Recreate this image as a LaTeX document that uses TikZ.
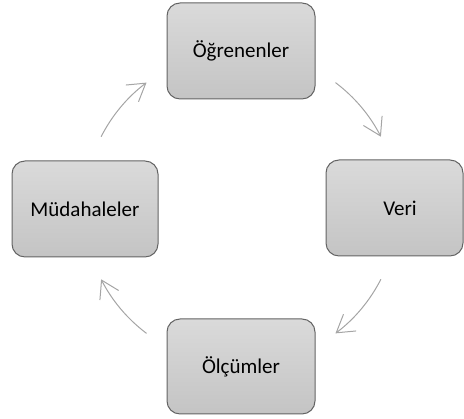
\documentclass[tikz,border=0pt]{standalone}
\usepackage{fontspec}
\setmainfont{Carlito}
\usetikzlibrary{arrows.meta}
\definecolor{boxtop}{RGB}{218,218,218}
\definecolor{boxbot}{RGB}{196,196,196}
\definecolor{boxline}{RGB}{100,100,100}
\definecolor{arrowgray}{RGB}{165,165,165}
\tikzset{
  cyclebox/.style={draw=boxline, line width=1pt, rounded corners=13pt,
    top color=boxtop, bottom color=boxbot, inner sep=0pt,
    font=\fontsize{21}{25}\selectfont},
  cyclearrow/.style={draw=arrowgray, line width=1pt,
    -{Straight Barb[length=17pt,width=21pt,line width=1pt]}}
}
\begin{document}
\begin{tikzpicture}[x=1pt,y=1pt]
\useasboundingbox (0,0) rectangle (464,419);
\node[cyclebox, minimum width=148pt, minimum height=96pt] (ogr) at (241,368) {Öğrenenler};
\node[cyclebox, minimum width=137pt, minimum height=96pt] (veri) at (394.5,211) {};
\node[font=\fontsize{21}{25}\selectfont] (veritext) at (400,211) {Veri};
\node[cyclebox, minimum width=146pt, minimum height=96pt] (mud) at (85,210) {Müdahaleler};
\node[cyclebox, minimum width=148pt, minimum height=95pt] (olc) at (241,52.5) {Ölçümler};
\coordinate (c) at (241,211);
\draw[cyclearrow] ([shift={(153:157)}]c) arc[start angle=153, end angle=127, radius=157];
\draw[cyclearrow] ([shift={(53:157)}]c) arc[start angle=53, end angle=27, radius=157];
\draw[cyclearrow] ([shift={(-27:157)}]c) arc[start angle=-27, end angle=-53, radius=157];
\draw[cyclearrow] ([shift={(-127:157)}]c) arc[start angle=-127, end angle=-153, radius=157];
\end{tikzpicture}
\end{document}
